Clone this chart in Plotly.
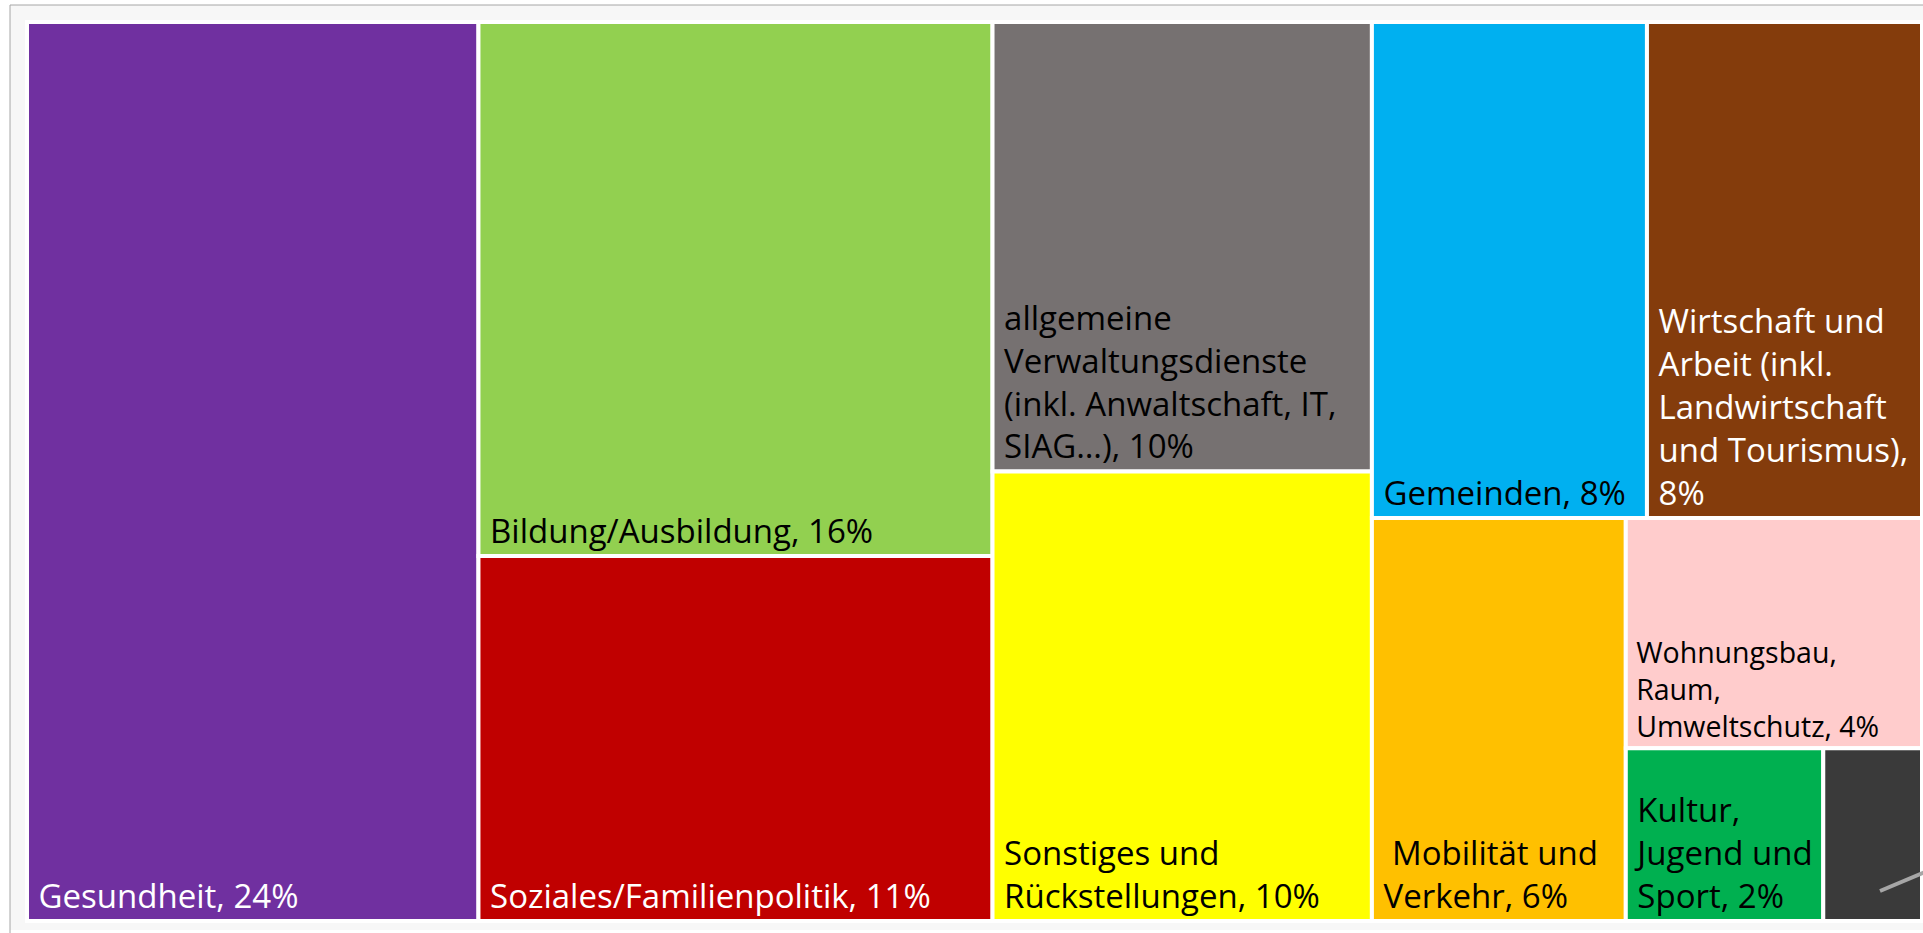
import plotly.graph_objects as go

# ---- data ----
root_label = "Landeshaushalt"
labels = [
    "Gesundheit",
    "Bildung/Ausbildung",
    "Soziales/Familienpolitik",
    "allgemeine Verwaltungsdienste",
    "Sonstiges und Rückstellungen",
    "Gemeinden",
    "Wirtschaft und Arbeit",
    "Mobilität und Verkehr",
    "Wohnungsbau, Raum, Umweltschutz",
    "Kultur, Jugend und Sport",
    "Übrige",
]
values = [23.8, 16.1, 11.0, 10.0, 10.0, 8.0, 8.0, 6.0, 4.0, 2.0, 1.0]
tile_lines = [
    ["Gesundheit, 24%"],
    ["Bildung/Ausbildung, 16%"],
    ["Soziales/Familienpolitik, 11%"],
    ["allgemeine", "Verwaltungsdienste", "(inkl. Anwaltschaft, IT,", "SIAG…), 10%"],
    ["Sonstiges und", "Rückstellungen, 10%"],
    ["Gemeinden, 8%"],
    ["Wirtschaft und", "Arbeit (inkl.", "Landwirtschaft", "und Tourismus),", "8%"],
    [" Mobilität und", "Verkehr, 6%"],
    ["Wohnungsbau,", "Raum,", "Umweltschutz, 4%"],
    ["Kultur,", "Jugend und", "Sport, 2%"],
    [""],
]
colors = ["#7030A0", "#92D050", "#C00000", "#767171", "#FFFF00", "#00B0F0",
          "#843C0C", "#FFC000", "#FFCCCC", "#00B050", "#3A3A3A"]
text_colors = ["white", "black", "white", "black", "black", "black",
               "white", "black", "black", "black", "white"]
text_sizes = [33, 33, 33, 33, 33, 33, 33, 33, 28.5, 33, 20]

W, H = 1923, 933
ML, MR, MT, MB = 27, 1, 22, 12
PW, PH = W - ML - MR, H - MT - MB

def px_x(x):
    return (x - ML) / PW

def px_y(y):
    return (H - MB - y) / PH

tile_texts = ["<br>".join(" " + ln for ln in lines) for lines in tile_lines]

all_labels = [root_label] + labels
all_parents = [""] + [root_label] * len(labels)
all_values = [0] + values
all_texts = [" "] + tile_texts
all_colors = ["#F7F7F7"] + colors
all_tcolors = ["black"] + text_colors
all_tsizes = [10] + text_sizes

fig = go.Figure(go.Treemap(
    labels=all_labels,
    parents=all_parents,
    values=all_values,
    branchvalues="remainder",
    text=all_texts,
    textinfo="text",
    textposition="bottom left",
    textfont=dict(family="Open Sans, Calibri, sans-serif",
                  size=all_tsizes, color=all_tcolors),
    sort=False,
    tiling=dict(packing="squarify", squarifyratio=1, pad=0),
    marker=dict(colors=all_colors, line=dict(width=4, color="white"),
                pad=dict(t=0, l=0, r=0, b=0)),
    pathbar=dict(visible=False),
    hoverinfo="label+value",
))

fig.update_layout(
    width=W, height=H,
    margin=dict(l=ML, r=MR, t=MT, b=MB),
    paper_bgcolor="#F7F7F7",
    showlegend=False,
    shapes=[
        dict(type="rect", xref="paper", yref="paper", layer="above",
             x0=px_x(-5), x1=px_x(10), y0=px_y(940), y1=px_y(-5),
             fillcolor="white", line=dict(width=0)),
        dict(type="rect", xref="paper", yref="paper", layer="above",
             x0=px_x(-5), x1=px_x(1930), y0=px_y(5), y1=px_y(-5),
             fillcolor="white", line=dict(width=0)),
        dict(type="rect", xref="paper", yref="paper", layer="above",
             x0=px_x(-5), x1=px_x(1930), y0=px_y(940), y1=px_y(930),
             fillcolor="white", line=dict(width=0)),
        dict(type="line", xref="paper", yref="paper", layer="above",
             x0=px_x(10), x1=px_x(1930), y0=px_y(5), y1=px_y(5),
             line=dict(color="#A6A6A6", width=1)),
        dict(type="line", xref="paper", yref="paper", layer="above",
             x0=px_x(10), x1=px_x(10), y0=px_y(940), y1=px_y(5),
             line=dict(color="#A6A6A6", width=1)),
        dict(type="line", xref="paper", yref="paper", layer="above",
             x0=px_x(1880), x1=px_x(1930), y0=px_y(891), y1=px_y(870),
             line=dict(color="#A6A6A6", width=4)),
    ],
)

fig.write_html("out.html",
               config={"displayModeBar": False},
               post_script="document.body.style.margin='0';document.body.style.overflow='hidden';")
